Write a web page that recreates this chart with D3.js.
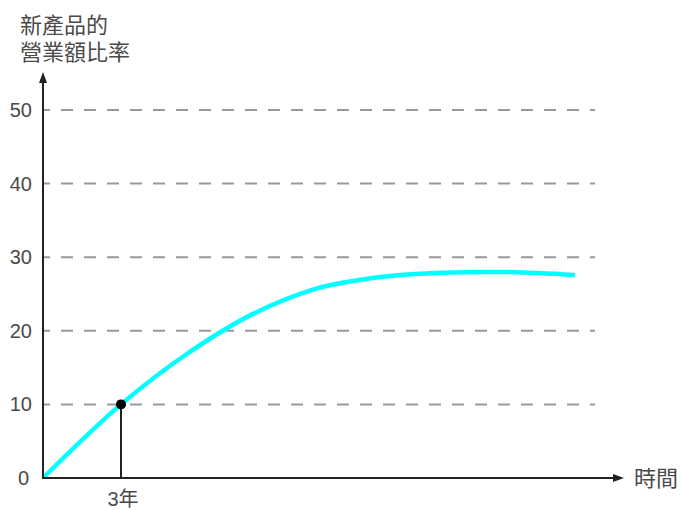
<!DOCTYPE html>
<html><head><meta charset="utf-8">
<script src="https://cdn.jsdelivr.net/npm/d3@7"></script>
<style>
html,body{margin:0;padding:0;background:#fff;}
text{font-family:"Liberation Sans","Noto Sans CJK TC",sans-serif;fill:#4a4a4a;}
</style></head>
<body>
<svg id="chart" width="685" height="510"></svg>
<script>
// data
const years = [0, 3, 5.53, 8.08, 10.38, 11.69, 13.73, 17.58, 20.46];
const ratio = [0, 10, 16.85, 22.3, 25.6, 26.63, 27.58, 28.0, 27.58];
const yTicks = [0, 10, 20, 30, 40, 50];
const markYear = 3;
const markValue = 10;
const markLabel = "3年";
const yTitle = ["新產品的", "營業額比率"];
const xTitle = "時間";

const svg = d3.select("#chart");
const x = d3.scaleLinear().domain([0, 22]).range([43, 615]);
const y = d3.scaleLinear().domain([0, 50]).range([478, 110]);

// gridlines
svg.append("g").selectAll("line").data(yTicks.filter(d => d > 0)).join("line")
  .attr("x1", 44).attr("x2", 595)
  .attr("y1", d => y(d)).attr("y2", d => y(d))
  .attr("stroke", "#999").attr("stroke-width", 2)
  .attr("stroke-dasharray", "12,11").attr("stroke-dashoffset", 6);

// y tick labels
svg.append("g").selectAll("text").data(yTicks).join("text")
  .attr("x", d => d === 0 ? 29 : 32).attr("y", d => y(d))
  .attr("dy", "0.35em").attr("text-anchor", "end")
  .attr("font-size", 20).text(d => d);

// curve
const line = d3.line().x((d, i) => x(years[i])).y(d => y(d)).curve(d3.curveCatmullRom.alpha(0.5));
svg.append("path").datum(ratio).attr("d", line)
  .attr("fill", "none").attr("stroke", "#00ffff").attr("stroke-width", 4.5)
  .attr("stroke-linecap", "butt");

// marker
svg.append("line").attr("x1", x(markYear)).attr("x2", x(markYear))
  .attr("y1", y(markValue)).attr("y2", y(0))
  .attr("stroke", "#222").attr("stroke-width", 2);
svg.append("circle").attr("cx", x(markYear)).attr("cy", y(markValue)).attr("r", 5).attr("fill", "#000");
svg.append("text").attr("x", x(markYear) + 2).attr("y", 506).attr("text-anchor", "middle")
  .attr("font-size", 20).text(markLabel);

// axes
const ax = svg.append("g").attr("stroke", "#222").attr("stroke-width", 2);
ax.append("line").attr("x1", x(0)).attr("x2", x(0)).attr("y1", y(0) + 1).attr("y2", 80);
ax.append("line").attr("x1", x(0) - 1).attr("x2", 616).attr("y1", y(0)).attr("y2", y(0));
svg.append("path").attr("d", `M${x(0)},72 L${x(0)-4},83 L${x(0)+4},83 Z`).attr("fill", "#222");
svg.append("path").attr("d", `M624,${y(0)} L613,${y(0)-4} L613,${y(0)+4} Z`).attr("fill", "#222");

// titles
svg.append("g").selectAll("text").data(yTitle).join("text")
  .attr("x", 20).attr("y", (d, i) => 33 + i * 27)
  .attr("font-size", 22).text(d => d);
svg.append("text").attr("x", 634).attr("y", 486).attr("font-size", 22).text(xTitle);
</script>
</body></html>
